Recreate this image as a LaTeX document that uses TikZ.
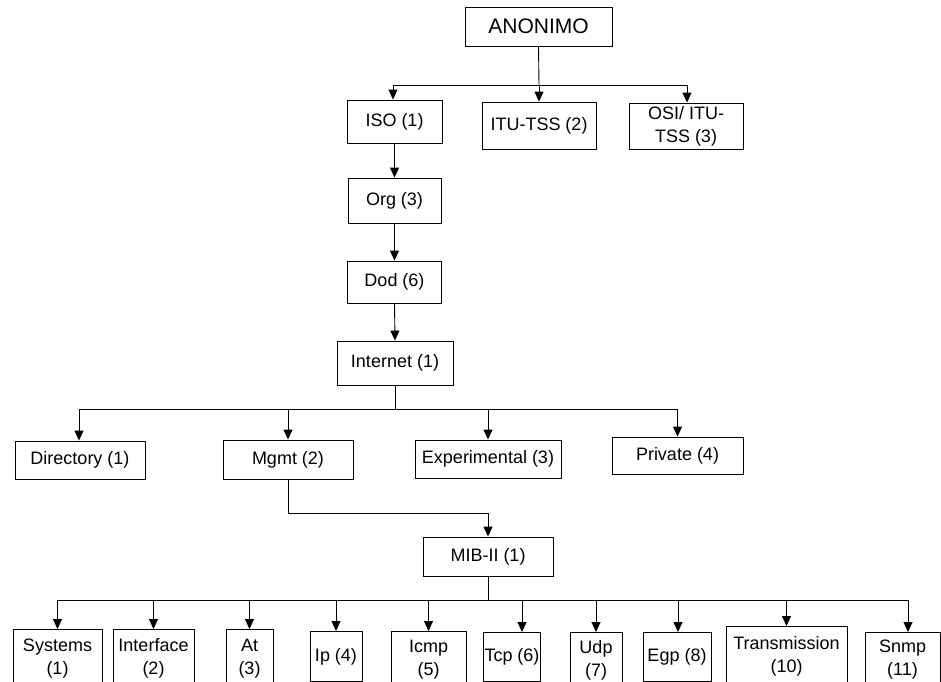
\documentclass[tikz,border=0pt]{standalone}
\usepackage{fontspec}
\setmainfont{Liberation Sans}
\usetikzlibrary{arrows.meta}
\begin{document}
\begin{tikzpicture}[x=1pt,y=-1pt,
  box/.style={draw,line width=0.9pt,inner sep=1pt,align=center,font=\fontsize{18}{23}\selectfont},
  bbox/.style={box,anchor=north},
  arr/.style={line width=0.9pt,-{Triangle[width=9pt,length=10pt]}},
  ln/.style={line width=0.9pt}]
\useasboundingbox (0,0) rectangle (941,681);
\clip (0,0) rectangle (941,681);
% top
\node[box,minimum width=147pt,minimum height=39pt,font=\fontsize{21}{25}\selectfont] (anon) at (538.5,26.5) {ANONIMO};
\node[box,minimum width=95pt,minimum height=43pt] (iso) at (394.5,121.5) {ISO (1)};
\node[box,minimum width=114pt,minimum height=47pt] (itu) at (539,125.5) {ITU-TSS (2)};
\node[box,minimum width=114pt,minimum height=46pt] (osi) at (686,126) {OSI/ ITU-\\TSS (3)};
\node[box,minimum width=93pt,minimum height=45pt] (org) at (394.5,200.5) {Org (3)};
\node[box,minimum width=94pt,minimum height=42pt] (dod) at (394.5,282) {Dod (6)};
\node[box,minimum width=116pt,minimum height=44pt] (inet) at (395,363) {Internet (1)};
% middle row
\node[box,minimum width=130pt,minimum height=38pt] (dir) at (80,460) {Directory (1)};
\node[box,minimum width=130pt,minimum height=39pt] (mgmt) at (288,459.5) {Mgmt (2)};
\node[box,minimum width=146pt,minimum height=38pt] (exp) at (488,459) {Experimental (3)};
\node[box,minimum width=131pt,minimum height=37pt] (priv) at (677.5,455.5) {Private (4)};
\node[box,minimum width=130pt,minimum height=39pt] (mib) at (488,556.5) {MIB-II (1)};
% bottom row
\node[bbox,minimum width=89pt,minimum height=58pt] (sys) at (57.5,629) {Systems\\(1)};
\node[bbox,minimum width=81pt,minimum height=58pt] (intf) at (153.5,629) {Interface\\(2)};
\node[bbox,minimum width=47pt,minimum height=58pt] (atn) at (249.5,629) {At\\(3)};
\node[bbox,minimum width=52pt,minimum height=50pt] (ipn) at (336,631) {Ip (4)};
\node[bbox,minimum width=75pt,minimum height=56pt] (icmp) at (428.5,631) {Icmp\\(5)};
\node[bbox,minimum width=48pt,minimum height=49pt] (tcp) at (512,632) {Tcp (6)};
\node[bbox,minimum width=52pt,minimum height=55pt] (udp) at (596,632) {Udp\\(7)};
\node[bbox,minimum width=68pt,minimum height=49pt] (egp) at (677,632) {Egp (8)};
\node[bbox,minimum width=121pt,minimum height=60pt] (trans) at (786.5,626) {Transmission\\(10)};
\node[bbox,minimum width=75pt,minimum height=55pt] (snmp) at (902.5,632) {Snmp\\(11)};
% connectors top
\coordinate (a1) at (539,85);
\draw[ln] (anon.south) -- (a1);
\draw[arr] (a1) -| ([xshift=-1.5pt]iso.north);
\draw[arr] (a1) -| (itu.north);
\draw[arr] (a1) -| ([xshift=1pt]osi.north);
\draw[arr] (iso.south) -- (org.north);
\draw[arr] (org.south) -- (dod.north);
\draw[arr] (dod.south) -- (inet.north);
% internet children
\coordinate (i1) at (395,409);
\draw[ln] (inet.south) -- (i1);
\draw[arr] (i1) -| ([xshift=-1pt]dir.north);
\draw[arr] (i1) -| (mgmt.north);
\draw[arr] (i1) -| (exp.north);
\draw[arr] (i1) -| (priv.north);
% mgmt to mib
\coordinate (g1) at (288,513);
\draw[arr] (mgmt.south) -- (g1) -| (mib.north);
% mib children
\coordinate (m1) at (488,600);
\draw[ln] (mib.south) -- (m1);
\draw[arr] (m1) -| (sys.north);
\draw[arr] (m1) -| (intf.north);
\draw[arr] (m1) -| (atn.north);
\draw[arr] (m1) -| (ipn.north);
\draw[arr] (m1) -| (icmp.north);
\draw[arr] (m1) -| ([xshift=10pt]tcp.north);
\draw[arr] (m1) -| (udp.north);
\draw[arr] (m1) -| ([xshift=1pt]egp.north);
\draw[arr] (m1) -| (trans.north);
\draw[arr] (m1) -| ([xshift=5.5pt]snmp.north);
\end{tikzpicture}
\end{document}
